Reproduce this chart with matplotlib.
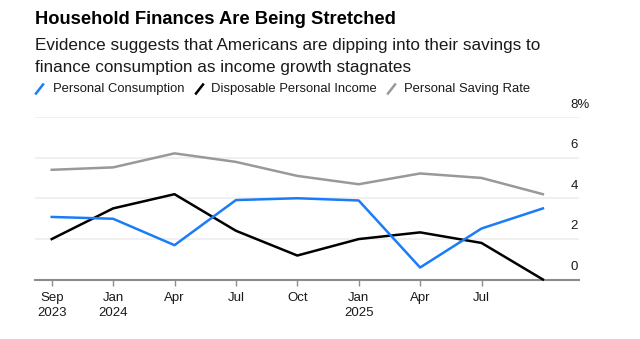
import numpy as np
import matplotlib
matplotlib.use("Agg")
import matplotlib.pyplot as plt
from matplotlib.lines import Line2D

plt.rcParams['font.family'] = ['Liberation Sans', 'DejaVu Sans']

# quarterly readings, Sep 2023 .. Oct 2025
tick_labels = ['Sep\n2023', 'Jan\n2024', 'Apr', 'Jul', 'Oct', 'Jan\n2025', 'Apr', 'Jul']
consumption = [3.08, 2.99, 1.69, 3.91, 4.00, 3.89, 0.59, 2.51, 3.50]
income = [1.99, 3.50, 4.20, 2.40, 1.18, 1.99, 2.32, 1.80, 0.0]
saving = [5.40, 5.52, 6.21, 5.79, 5.10, 4.69, 5.22, 5.00, 4.20]
y_ticks = [0, 2, 4, 6, 8]
y_tick_labels = ['0', '2', '4', '6', '8%']

BLUE = '#1a7cf7'
GRAY = '#999999'

W, H = 640, 339
fig = plt.figure(figsize=(W / 100, H / 100), dpi=100)
ax = fig.add_axes([35 / W, 1 - 279.5 / H, (579 - 35) / W, (279.5 - 117) / H])

x = np.arange(len(consumption))
ax.plot(x, saving, color=GRAY, lw=1.8, solid_joinstyle='round', clip_on=False, zorder=3)
ax.plot(x, income, color='black', lw=1.8, solid_joinstyle='round', clip_on=False, zorder=4)
ax.plot(x, consumption, color=BLUE, lw=1.8, solid_joinstyle='round', clip_on=False, zorder=5)

ax.set_ylim(0, 8)
ax.set_xlim(-(51.7 - 35) / 61.4, (579 - 51.7) / 61.4)

for v in y_ticks[1:]:
    ax.axhline(v, color='#ededed', lw=1.2, zorder=1)
for v, lab in zip(y_ticks, y_tick_labels):
    ax.annotate(lab, xy=(1, v), xycoords=ax.get_yaxis_transform(),
                xytext=(-6, 9), textcoords='offset points',
                ha='left', va='center', fontsize=9.5, color='#1a1a1a')

ax.set_yticks([])
ax.set_xticks(np.arange(len(tick_labels)))
ax.set_xticklabels(tick_labels, fontsize=9.5, color='#1a1a1a', linespacing=1.3)
ax.tick_params(axis='x', length=4, width=1, color='#8c8c8c', pad=5)

for s in ['top', 'right', 'left']:
    ax.spines[s].set_visible(False)
ax.spines['bottom'].set_color('#8c8c8c')
ax.spines['bottom'].set_linewidth(1.5)

fig.text(35 / W, 1 - 19 / H, 'Household Finances Are Being Stretched',
         fontsize=13.2, fontweight='bold', va='center', ha='left')
fig.text(35 / W, 1 - 56.5 / H,
         'Evidence suggests that Americans are dipping into their savings to\n'
         'finance consumption as income growth stagnates',
         fontsize=12.3, va='center', ha='left', linespacing=1.6, color='#1a1a1a')

# legend with slash markers
legend = [(36, 53, BLUE, 'Personal Consumption'),
          (196, 211, 'black', 'Disposable Personal Income'),
          (388, 404, GRAY, 'Personal Saving Rate')]
ly = 89
for mx, tx, col, lab in legend:
    fig.add_artist(Line2D([mx / W, (mx + 7) / W], [1 - (ly + 4.5) / H, 1 - (ly - 4.5) / H],
                          color=col, lw=1.8, transform=fig.transFigure))
    fig.text(tx / W, 1 - ly / H, lab, fontsize=9.4, va='center', ha='left', color='#1a1a1a')

fig.savefig('out.png', dpi=100)
